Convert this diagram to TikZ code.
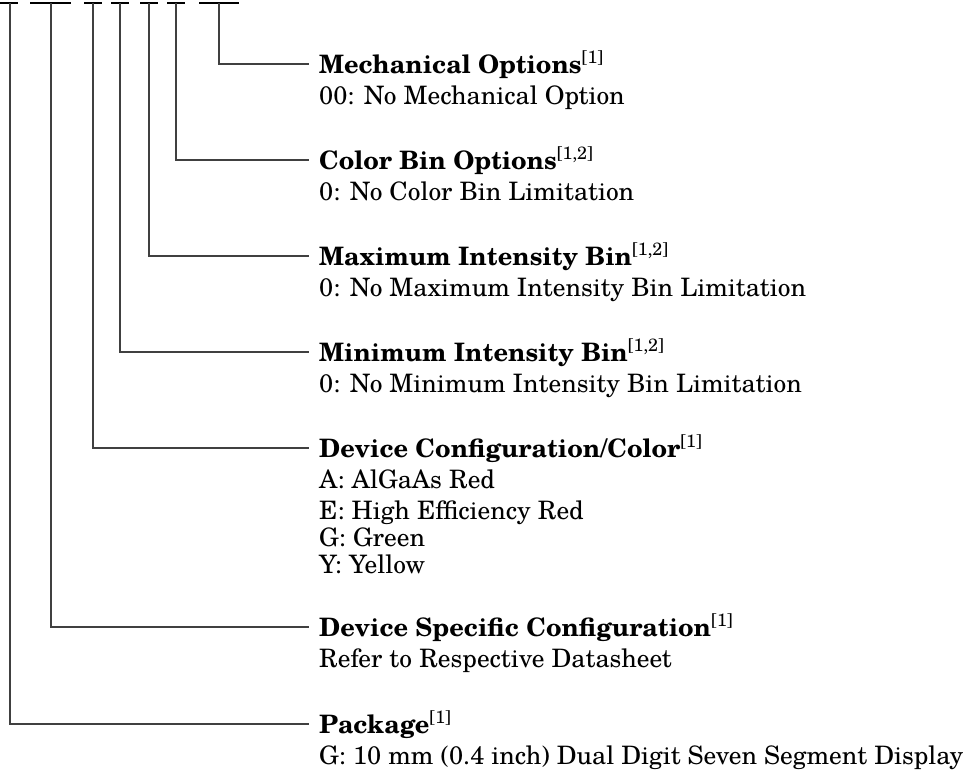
\documentclass[tikz,border=0pt]{standalone}
\usepackage{fontspec}
\setmainfont{TeX Gyre Schola}
\newcommand{\refmark}[1]{\textsuperscript{\mdseries[#1]}}
\tikzset{
  conn/.style={draw=black!75, line width=1.1pt},
  barline/.style={draw=black, line width=2.6pt},
  title/.style={anchor=base west, inner sep=0pt, font=\fontsize{25.4}{30}\selectfont\bfseries},
  desc/.style={anchor=base west, inner sep=0pt, font=\fontsize{25.4}{30}\selectfont},
}
\begin{document}
\begin{tikzpicture}[x=1pt,y=-1pt]
\useasboundingbox (0,0) rectangle (974,772);
% header bars
\draw[barline] (0,3) -- (18,3);
\draw[barline] (30,3) -- (71,3);
\draw[barline] (84,3) -- (102,3);
\draw[barline] (111,3) -- (129,3);
\draw[barline] (140,3) -- (158,3);
\draw[barline] (167,3) -- (185,3);
\draw[barline] (199,3) -- (239,3);
% bar centres
\coordinate (v1) at (10,3);
\coordinate (v2) at (51,3);
\coordinate (v3) at (93,3);
\coordinate (v4) at (120,3);
\coordinate (v5) at (149,3);
\coordinate (v6) at (176,3);
\coordinate (v7) at (219,3);
% line ends
\coordinate (e1) at (309,64);
\coordinate (e2) at (309,160);
\coordinate (e3) at (309,256);
\coordinate (e4) at (309,352);
\coordinate (e5) at (309,448);
\coordinate (e6) at (309,627);
\coordinate (e7) at (309,724);
\draw[conn] (v7) |- (e1);
\draw[conn] (v6) |- (e2);
\draw[conn] (v5) |- (e3);
\draw[conn] (v4) |- (e4);
\draw[conn] (v3) |- (e5);
\draw[conn] (v2) |- (e6);
\draw[conn] (v1) |- (e7);
% texts
\node[title] (t1) at (319,73) {Mechanical Options\refmark{1}};
\node[desc] (d1) at (319,104) {00: No Mechanical Option};
\node[title] (t2) at (319,169) {Color Bin Options\refmark{1,2}};
\node[desc] (d2) at (319,200) {0: No Color Bin Limitation};
\node[title] (t3) at (319,265) {Maximum Intensity Bin\refmark{1,2}};
\node[desc] (d3) at (319,296) {0: No Maximum Intensity Bin Limitation};
\node[title] (t4) at (319,361) {Minimum Intensity Bin\refmark{1,2}};
\node[desc] (d4) at (319,392) {0: No Minimum Intensity Bin Limitation};
\node[title] (t5) at (319,457) {Device Configuration/Color\refmark{1}};
\node[desc] (d5a) at (319,488) {A: AlGaAs Red};
\node[desc] (d5b) at (319,519) {E: High Efficiency Red};
\node[desc] (d5c) at (319,546) {G: Green};
\node[desc] (d5d) at (319,573) {Y: Yellow};
\node[title] (t6) at (319,636) {Device Specific Configuration\refmark{1}};
\node[desc] (d6) at (319,667) {Refer to Respective Datasheet};
\node[title] (t7) at (319,733) {Package\refmark{1}};
\node[desc] (d7) at (319,764) {G: 10 mm (0.4 inch) Dual Digit Seven Segment Display};
\end{tikzpicture}
\end{document}
